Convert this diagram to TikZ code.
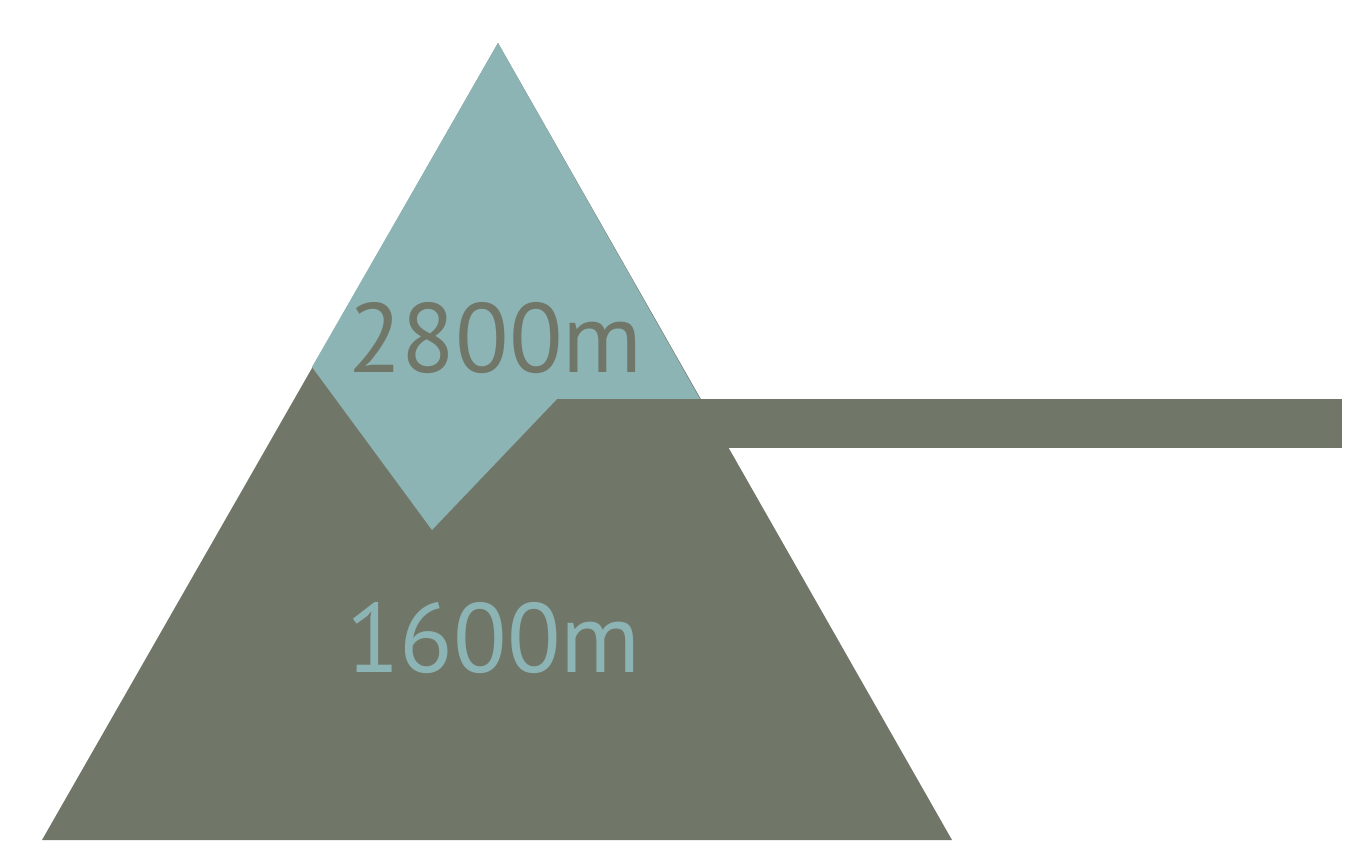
\documentclass[tikz,border=0pt]{standalone}
\usepackage{fontspec}
\setmainfont{PT Sans}
\usepackage{tikz}
\definecolor{peakteal}{HTML}{8DB4B4}
\definecolor{rockgray}{HTML}{717768}

\begin{document}
\begin{tikzpicture}[x=1cm, y=1cm]
  \useasboundingbox (0,0) rectangle (13.71,8.59);
  % mountain body
  \fill[rockgray] (0.42,0.19) -- (4.98,8.16) -- (9.52,0.19) -- cycle;
  % snow cap above the line
  \fill[peakteal] (4.98,8.16) -- (3.12,4.92) -- (4.32,3.29) -- (5.57,4.60) -- (7.00,4.60) -- cycle;
  % level bar
  \fill[rockgray] (5.57,4.60) rectangle (13.42,4.11);
  \node[rockgray, font=\fontsize{28}{30}\selectfont, anchor=base, inner sep=0pt] (upper) at (4.955,4.87) {2800m};
  \node[peakteal, font=\fontsize{28}{30}\selectfont, anchor=base, inner sep=0pt] (lower) at (4.935,1.87) {1600m};
\end{tikzpicture}
\end{document}
